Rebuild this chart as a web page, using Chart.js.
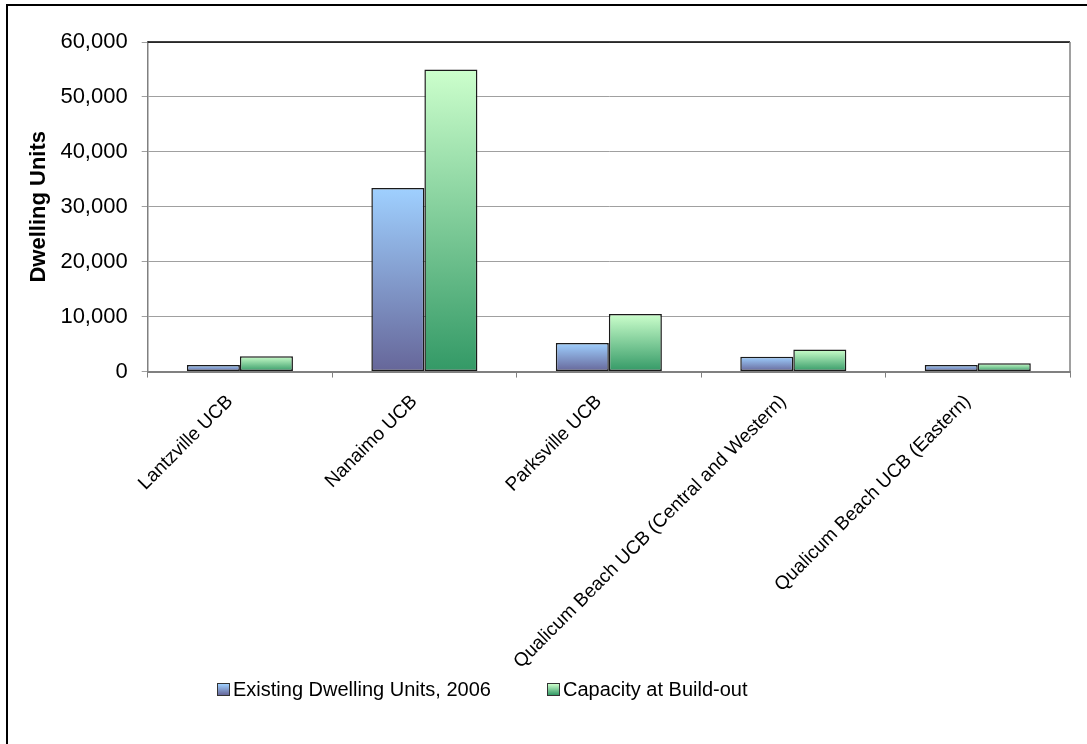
<!DOCTYPE html>
<html lang="en">
  <head>
    <meta charset="UTF-8" />
    <title>Dwelling Units by UCB</title>
    <script src="https://cdn.jsdelivr.net/npm/chart.js@4.4.1/dist/chart.umd.min.js"></script>
    <style>
      body { margin: 0; background: #fff; }
      #wrap { position: relative; width: 1087px; height: 744px; }
      #legend { position: absolute; top: 678px; left: 0; font: 20px "Liberation Sans", Arial, sans-serif; line-height: 23px; color: #000; }
      #legend .item { position: absolute; white-space: nowrap; display: flex; align-items: center; }
      #legend .box { width: 11px; height: 11px; border: 1px solid #333; margin-right: 3px; }
    </style>
  </head>
  <body>
    <div id="wrap">
      <canvas id="myChart" width="1087" height="744"></canvas>
      <div id="legend"></div>
    </div>

    <script>
      const categories = [
        'Lantzville UCB',
        'Nanaimo UCB',
        'Parksville UCB',
        'Qualicum Beach UCB (Central and Western)',
        'Qualicum Beach UCB (Eastern)'
      ];
      const existingUnits = [1200, 33400, 5200, 2700, 1200];
      const buildOutCapacity = [2800, 55000, 10500, 4000, 1500];
      const seriesNames = ['Existing Dwelling Units, 2006', 'Capacity at Build-out'];
      const yTicks = [0, 10000, 20000, 30000, 40000, 50000, 60000];

      const FONT = '"Liberation Sans", Arial, sans-serif';

      // vertical gradient per bar, light at the top, dark at the base
      function barFill(light, dark) {
        return function (c) {
          const chart = c.chart;
          const y = chart.scales.y;
          if (!y || c.type !== 'data') return dark;
          const y0 = y.getPixelForValue(0);
          const y1 = y.getPixelForValue(c.raw);
          if (!isFinite(y0) || !isFinite(y1) || y0 === y1) return dark;
          const g = chart.ctx.createLinearGradient(0, y1, 0, y0);
          g.addColorStop(0, light);
          g.addColorStop(1, dark);
          return g;
        };
      }

      const palette = [
        { light: '#9fd0ff', dark: '#666699' },
        { light: '#ccffcc', dark: '#339966' }
      ];

      // outer chart frame plus the plot area's top and right edges
      const frame = {
        id: 'frame',
        afterDraw(chart) {
          const ctx = chart.ctx;
          const a = chart.chartArea;
          ctx.save();
          ctx.strokeStyle = '#000';
          ctx.lineWidth = 2;
          ctx.beginPath();
          ctx.moveTo(7, 744);
          ctx.lineTo(7, 5);
          ctx.lineTo(1087, 5);
          ctx.stroke();
          ctx.lineWidth = 1.5;
          ctx.beginPath();
          ctx.moveTo(a.left, a.top);
          ctx.lineTo(a.right, a.top);
          ctx.stroke();
          ctx.strokeStyle = '#808080';
          ctx.beginPath();
          ctx.moveTo(a.right, a.top);
          ctx.lineTo(a.right, a.bottom);
          ctx.stroke();
          ctx.restore();
        }
      };

      const ctx = document.getElementById('myChart').getContext('2d');
      const myChart = new Chart(ctx, {
        type: 'bar',
        data: {
          labels: categories,
          datasets: [
            {
              label: seriesNames[0],
              data: existingUnits,
              backgroundColor: barFill(palette[0].light, palette[0].dark),
              borderColor: '#1a1a1a',
              borderWidth: 1.5,
              borderSkipped: false
            },
            {
              label: seriesNames[1],
              data: buildOutCapacity,
              backgroundColor: barFill(palette[1].light, palette[1].dark),
              borderColor: '#1a1a1a',
              borderWidth: 1.5,
              borderSkipped: false
            }
          ]
        },
        options: {
          responsive: false,
          animation: false,
          locale: 'en-US',
          layout: { padding: { left: 12, right: 17, top: 42, bottom: 58 } },
          datasets: {
            bar: { categoryPercentage: 0.575, barPercentage: 1 }
          },
          plugins: {
            legend: { display: false },
            tooltip: { enabled: false }
          },
          scales: {
            x: {
              // rotated labels may hang past the plot's left edge
              afterFit(scale) {
                scale.paddingLeft = 0;
                scale.paddingRight = 0;
              },
              grid: {
                offset: true,
                drawOnChartArea: false,
                drawTicks: true,
                tickLength: 6,
                color: '#808080'
              },
              border: { color: '#808080', width: 2 },
              ticks: {
                minRotation: 45,
                maxRotation: 45,
                padding: 13,
                labelOffset: -10,
                color: '#000',
                font: { family: FONT, size: 19 }
              }
            },
            y: {
              min: 0,
              max: 60000,
              afterBuildTicks(scale) {
                scale.ticks = yTicks.map(v => ({ value: v }));
              },
              grid: { color: '#a0a0a0', lineWidth: 1, tickLength: 6 },
              border: { color: '#808080', width: 1.5 },
              ticks: {
                padding: 14,
                color: '#000',
                font: { family: FONT, size: 22 },
                callback: v => v.toLocaleString('en-US')
              },
              title: {
                display: true,
                text: 'Dwelling Units',
                color: '#000',
                padding: { top: 14, bottom: -6 },
                font: { family: FONT, size: 22, weight: 'bold' }
              }
            }
          }
        },
        plugins: [frame]
      });

      // legend below the chart, built from the datasets
      const legendPos = [217, 547];
      const legendEl = document.getElementById('legend');
      myChart.data.datasets.forEach((ds, i) => {
        const item = document.createElement('div');
        item.className = 'item';
        item.style.left = legendPos[i] + 'px';
        const box = document.createElement('span');
        box.className = 'box';
        box.style.background = 'linear-gradient(' + palette[i].light + ', ' + palette[i].dark + ')';
        item.appendChild(box);
        item.appendChild(document.createTextNode(ds.label));
        legendEl.appendChild(item);
      });
    </script>
  </body>
</html>
